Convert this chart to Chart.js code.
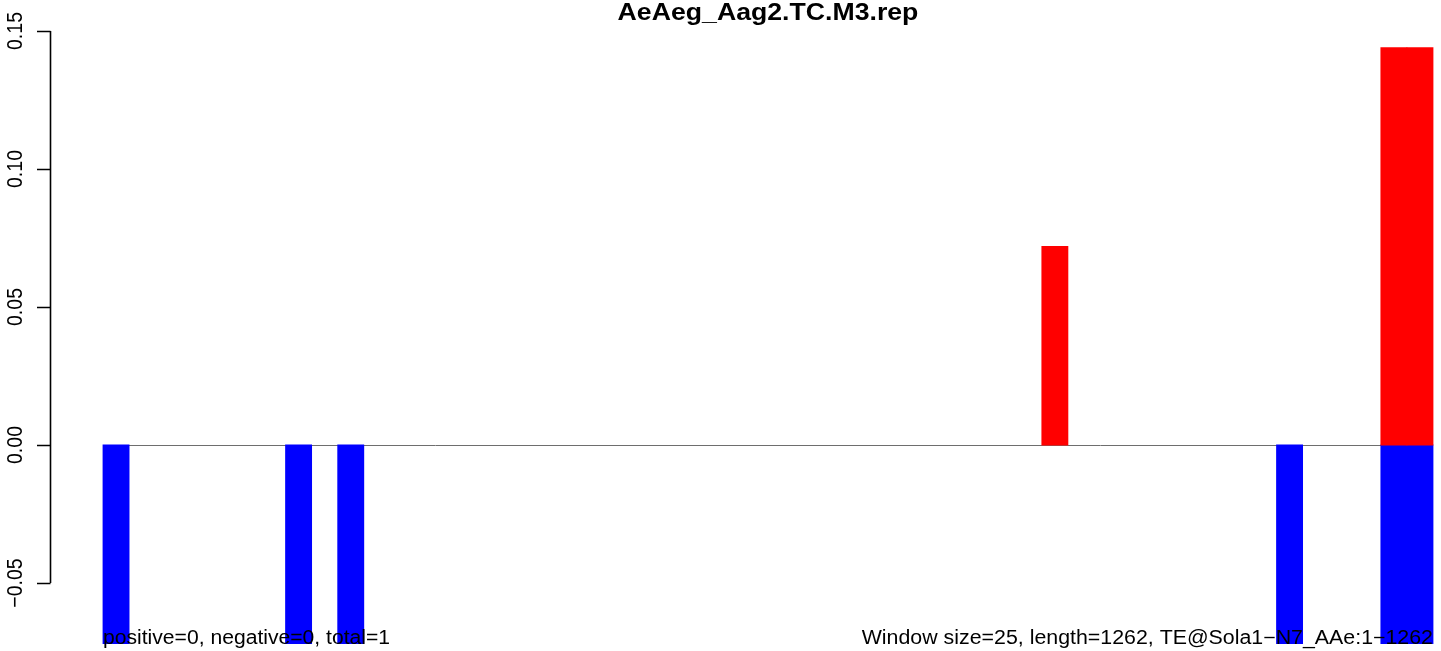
<!DOCTYPE html>
<html>
<head>
<meta charset="utf-8">
<title>AeAeg_Aag2.TC.M3.rep</title>
<script src="https://cdn.jsdelivr.net/npm/chart.js@4.4.1/dist/chart.umd.min.js"></script>
<style>
  html, body { margin: 0; padding: 0; background: #fff; }
  #wrap { width: 1441px; height: 651px; position: relative; }
</style>
</head>
<body>
<div id="wrap"><canvas id="repChart"></canvas></div>
<script>
// Chart text
const chartTitle = 'AeAeg_Aag2.TC.M3.rep';
const leftNote = 'positive=0, negative=0, total=1';
const rightNote = 'Window size=25, length=1262, TE@Sola1\u2212N7_AAe:1\u22121262';

// Windows of 25 bp along the 1262 bp element (51 windows)
const windowStarts = [1, 26, 51, 76, 101, 126, 151, 176, 201, 226,
  251, 276, 301, 326, 351, 376, 401, 426, 451, 476,
  501, 526, 551, 576, 601, 626, 651, 676, 701, 726,
  751, 776, 801, 826, 851, 876, 901, 926, 951, 976,
  1001, 1026, 1051, 1076, 1101, 1126, 1151, 1176, 1201, 1226, 1251];

// Values
const positiveValues = [0, 0, 0, 0, 0, 0, 0, 0, 0, 0,
  0, 0, 0, 0, 0, 0, 0, 0, 0, 0,
  0, 0, 0, 0, 0, 0, 0, 0, 0, 0,
  0, 0, 0, 0, 0, 0, 0.072, 0, 0, 0,
  0, 0, 0, 0, 0, 0, 0, 0, 0, 0.144, 0.144];
const negativeValues = [-0.072, 0, 0, 0, 0, 0, 0, -0.072, 0, -0.072,
  0, 0, 0, 0, 0, 0, 0, 0, 0, 0,
  0, 0, 0, 0, 0, 0, 0, 0, 0, 0,
  0, 0, 0, 0, 0, 0, 0, 0, 0, 0,
  0, 0, 0, 0, 0, -0.072, 0, 0, 0, -0.072, -0.072];

// y axis ticks
const yTicks = [-0.05, 0, 0.05, 0.10, 0.15];
const yTickLabels = ['\u22120.05', '0.00', '0.05', '0.10', '0.15'];

const categories = windowStarts.map(function (s) {
  return s + '-' + Math.min(s + 24, 1262);
});

// draw stretched text (the picture is a bit wider than tall)
function stretchText(ctx, text, x, y, sx, align) {
  ctx.save();
  ctx.translate(x, y);
  ctx.scale(sx, 1);
  ctx.textAlign = align;
  ctx.fillText(text, 0, 0);
  ctx.restore();
}

const baseLine = {
  id: 'baseLine',
  beforeDatasetsDraw(chart) {
    const ctx = chart.ctx;
    const area = chart.chartArea;
    const y0 = Math.round(chart.scales.y.getPixelForValue(0)) + 0.5;
    ctx.save();
    ctx.strokeStyle = '#6e6e6e';
    ctx.lineWidth = 1;
    ctx.beginPath();
    ctx.moveTo(area.left, y0);
    ctx.lineTo(area.right, y0);
    ctx.stroke();
    ctx.restore();
  }
};

const rDecor = {
  id: 'rDecor',
  afterDraw(chart) {
    const ctx = chart.ctx;
    const area = chart.chartArea;
    const yScale = chart.scales.y;
    const axisX = 50.5;

    ctx.save();
    ctx.strokeStyle = '#000';
    ctx.fillStyle = '#000';
    ctx.lineWidth = 1.6;

    // y axis line and ticks
    const top = yScale.getPixelForValue(yTicks[yTicks.length - 1]);
    const bottom = yScale.getPixelForValue(yTicks[0]);
    ctx.beginPath();
    ctx.moveTo(axisX, top);
    ctx.lineTo(axisX, bottom);
    yTicks.forEach(function (v) {
      const py = Math.round(yScale.getPixelForValue(v)) + 0.5;
      ctx.moveTo(axisX, py);
      ctx.lineTo(axisX - 13.5, py);
    });
    ctx.stroke();

    // rotated tick labels
    ctx.font = '19.5px "Liberation Sans", Arial, sans-serif';
    ctx.textBaseline = 'alphabetic';
    yTicks.forEach(function (v, i) {
      const py = yScale.getPixelForValue(v);
      ctx.save();
      ctx.translate(22, py);
      ctx.scale(1.14, 1);
      ctx.rotate(-Math.PI / 2);
      ctx.textAlign = 'center';
      ctx.fillText(yTickLabels[i], 0, 0);
      ctx.restore();
    });

    // title
    ctx.font = 'bold 23.4px "Liberation Sans", Arial, sans-serif';
    stretchText(ctx, chartTitle, (area.left + area.right) / 2, 20, 1.14, 'center');

    // bottom notes
    ctx.font = '19.5px "Liberation Sans", Arial, sans-serif';
    stretchText(ctx, leftNote, area.left, 644, 1.083, 'left');
    stretchText(ctx, rightNote, area.right, 644, 1.095, 'right');
    ctx.restore();
  }
};

// zero-height bars should not leave a hairline on the baseline
function inflateFor(c) {
  return c.raw === 0 ? 0 : 0.4;
}

const ctx = document.getElementById('repChart').getContext('2d');
const repChart = new Chart(ctx, {
  type: 'bar',
  data: {
    labels: categories,
    datasets: [{
      label: 'positive',
      data: positiveValues,
      backgroundColor: '#ff0000',
      borderWidth: 0,
      inflateAmount: inflateFor,
      clip: false
    }, {
      label: 'negative',
      data: negativeValues,
      backgroundColor: '#0000ff',
      borderWidth: 0,
      inflateAmount: inflateFor,
      clip: false
    }]
  },
  options: {
    responsive: true,
    maintainAspectRatio: false,
    animation: false,
    layout: { padding: { left: 103, right: 8, top: 31, bottom: 68 } },
    datasets: {
      bar: { barPercentage: 1, categoryPercentage: 1 }
    },
    plugins: {
      legend: { display: false },
      title: { display: false },
      tooltip: { enabled: false }
    },
    scales: {
      x: { display: false, stacked: true, grid: { display: false } },
      y: { display: false, stacked: true, min: -0.05, max: 0.15 }
    }
  },
  plugins: [baseLine, rDecor]
});
</script>
</body>
</html>
